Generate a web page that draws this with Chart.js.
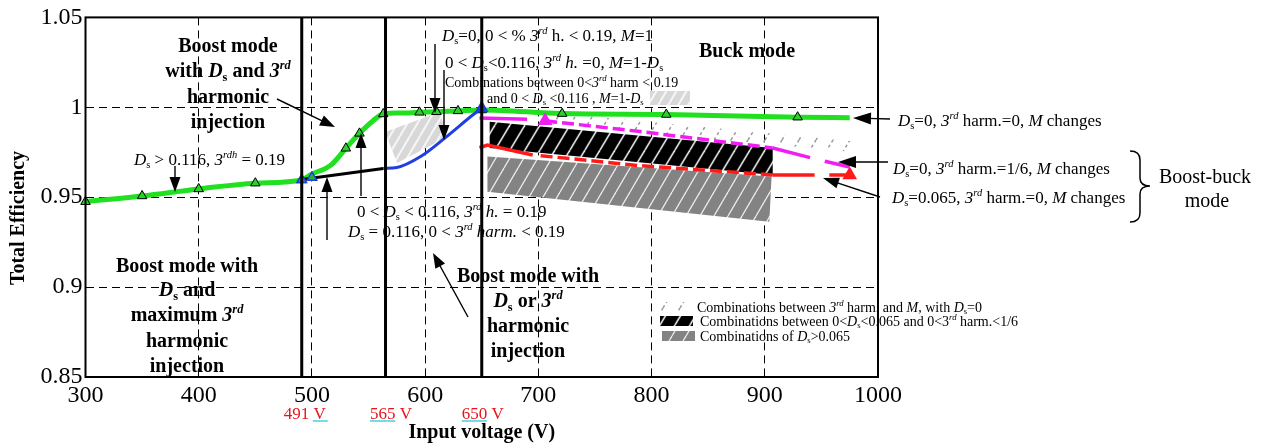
<!DOCTYPE html>
<html lang="en">
<head>
<meta charset="UTF-8" />
<title>Total efficiency vs input voltage</title>
<script src="https://cdn.jsdelivr.net/npm/chart.js"></script>
<style>
  body { margin: 0; background: #fff; }
  #chart { display: block; }
</style>
</head>
<body>
<canvas id="chart" width="1272" height="443"></canvas>
<script>
  // ---- axis ticks ----
  const xTicks = [300, 400, 500, 600, 700, 800, 900, 1000];
  const xTickLabels = ['300', '400', '500', '600', '700', '800', '900', '1000'];
  const yTicks = [0.85, 0.9, 0.95, 1, 1.05];
  const yTickLabels = ['0.85', '0.9', '0.95', '1', '1.05'];

  // mode boundaries (V)
  const modeBounds = [491, 565, 650];

  // green: boost curve + Ds=0, 3rd harm.=0, M changes
  const greenV   = [300, 350, 400, 450, 491, 498, 517, 530, 542, 553, 563, 578, 595, 610, 629, 650, 721, 813, 929, 975];
  const greenEff = [0.9475, 0.9507, 0.9546, 0.9578, 0.9596, 0.9623, 0.968, 0.9772, 0.9855, 0.992, 0.9963, 0.9968, 0.9972, 0.9975, 0.998, 0.9985, 0.9965, 0.996, 0.9945, 0.9942];
  const greenMark = [1, 1, 1, 1, 1, 0, 0, 1, 1, 0, 1, 0, 1, 1, 1, 1, 1, 1, 1, 0];

  // black: Ds = 0.116, 0 < 3rd harm. < 0.19
  const blackV   = [491, 563];
  const blackEff = [0.9598, 0.966];
  const blueMarkV   = [491, 500];
  const blueMarkEff = [0.9597, 0.961];

  // blue: 0 < Ds < 0.116, 3rd h. = 0, M = 1-Ds
  const blueV   = [563, 575, 596, 619, 642, 650];
  const blueEff = [0.966, 0.9665, 0.9726, 0.9837, 0.9957, 0.9995];

  // magenta: Ds=0, 3rd harm.=1/6, M changes
  const magV   = [648, 690, 706, 790, 907, 940, 953, 975];
  const magEff = [0.994, 0.9933, 0.9925, 0.9865, 0.9774, 0.972, 0.970, 0.9668];
  const magSeg = ['solid', 'gap', 'dash', 'dash', 'solid', 'gap', 'solid'];

  // red: Ds=0.065, 3rd harm.=0, M changes
  const redV   = [648, 655, 695, 702, 790, 907, 944, 957, 975];
  const redEff = [0.9775, 0.979, 0.9735, 0.9731, 0.9675, 0.9624, 0.9624, 0.9624, 0.9624];
  const redSeg = ['solid', 'solid', 'gap', 'dash', 'dash', 'solid', 'gap', 'solid'];

  // hatched regions (corner points)
  const lightBoxV   = [564.6, 613, 619.3, 575.2];
  const lightBoxEff = [0.9863, 0.9974, 0.9835, 0.969];
  const ds0V   = [705, 980, 980, 705];
  const ds0Eff = [0.9975, 0.981, 0.975, 0.991];
  const blackRegV   = [657, 907, 907, 657];
  const blackRegEff = [0.992, 0.9774, 0.9624, 0.9774];
  const grayRegV   = [655, 906, 904, 655];
  const grayRegEff = [0.9726, 0.9615, 0.9364, 0.953];

  const SERIF = '"Liberation Serif", "Times New Roman", serif';

  function stripes(bg, fg, w, h, lw, halo, dash) {
    const c = document.createElement('canvas');
    c.width = w; c.height = h;
    const g = c.getContext('2d');
    if (bg) { g.fillStyle = bg; g.fillRect(0, 0, w, h); }
    const draw = (col, width) => {
      g.strokeStyle = col; g.lineWidth = width;
      if (dash) g.setLineDash(dash);
      for (const o of [-w, 0, w]) {
        g.beginPath(); g.moveTo(o, h); g.lineTo(o + w, 0); g.stroke();
      }
    };
    if (halo) draw(halo, lw * 2);
    draw(fg, lw);
    return g.createPattern(c, 'repeat');
  }

  const patBlack = stripes('#000', '#e8e8e8', 15, 25, 1.3, '#3a3a3a');
  const patGray  = stripes('#838383', '#ececec', 14, 24, 1.3);
  const patLight = stripes('#d8d8d8', '#f6f6f6', 10, 17, 2);
  const patDs0   = stripes(null, '#9a9a9a', 17, 28, 1.5, null, [3, 3]);

  const pts = (xs, ys) => xs.map((x, i) => ({ x, y: ys[i] }));

  function region(xs, ys, pattern) {
    return {
      data: pts(xs, ys), fill: 'shape', backgroundColor: pattern,
      borderWidth: 0, borderColor: 'transparent', pointRadius: 0, order: 10
    };
  }

  function segStyle(kinds, dash) {
    return {
      borderDash: ctx => kinds[ctx.p0DataIndex] === 'dash' ? dash : [],
      borderColor: ctx => kinds[ctx.p0DataIndex] === 'gap' ? 'transparent' : undefined
    };
  }

  // rich text: *italic*, ^superscript^, ~subscript~
  function rich(ctx, str, x, yMid, size, opt = {}) {
    const weight = opt.bold ? 'bold ' : '';
    const segs = [];
    for (const p of str.split(/(\*[^*]+\*|\^[^^]+\^|~[^~]+~)/)) {
      if (!p) continue;
      let t = p, it = '', s = size, dy = 0;
      if (p[0] === '*') { t = p.slice(1, -1); it = 'italic '; }
      else if (p[0] === '^') { t = p.slice(1, -1); it = 'italic '; s = size * 0.62; dy = -size * 0.4; }
      else if (p[0] === '~') { t = p.slice(1, -1); s = size * 0.62; dy = size * 0.2; }
      const font = it + weight + s.toFixed(1) + 'px ' + SERIF;
      ctx.font = font;
      segs.push({ t, font, dy, w: ctx.measureText(t).width });
    }
    const total = segs.reduce((a, s) => a + s.w, 0);
    let cx = opt.align === 'center' ? x - total / 2 : x;
    const base = yMid + size * 0.33;
    ctx.fillStyle = opt.color || '#000';
    ctx.textAlign = 'left';
    ctx.textBaseline = 'alphabetic';
    for (const s of segs) { ctx.font = s.font; ctx.fillText(s.t, cx, base + s.dy); cx += s.w; }
    return total;
  }

  function arrow(ctx, x1, y1, x2, y2, head = 15, hw = 5.5) {
    const a = Math.atan2(y2 - y1, x2 - x1);
    const c = Math.cos(a), s = Math.sin(a);
    ctx.strokeStyle = '#000'; ctx.fillStyle = '#000'; ctx.lineWidth = 1.4;
    ctx.beginPath(); ctx.moveTo(x1, y1); ctx.lineTo(x2 - head * 0.8 * c, y2 - head * 0.8 * s); ctx.stroke();
    ctx.beginPath(); ctx.moveTo(x2, y2);
    ctx.lineTo(x2 - head * c + hw * s, y2 - head * s - hw * c);
    ctx.lineTo(x2 - head * c - hw * s, y2 - head * s + hw * c);
    ctx.closePath(); ctx.fill();
  }

  const annotations = {
    id: 'annotations',
    afterDraw(chart) {
      const ctx = chart.ctx;
      const a = chart.chartArea;
      const x = chart.scales.x;
      ctx.save();

      // frame
      ctx.strokeStyle = '#000'; ctx.lineWidth = 2;
      ctx.strokeRect(a.left, a.top, a.right - a.left, a.bottom - a.top);

      // y axis title
      ctx.save();
      ctx.translate(19, 218); ctx.rotate(-Math.PI / 2);
      ctx.font = 'bold 20px ' + SERIF; ctx.fillStyle = '#000';
      ctx.textAlign = 'center'; ctx.textBaseline = 'middle';
      ctx.fillText('Total Efficiency', 0, 0);
      ctx.restore();

      // boundary voltage labels
      const offs = [-18, -15.5, -20];
      modeBounds.forEach((v, i) => {
        const lx = x.getPixelForValue(v) + offs[i];
        const w = rich(ctx, v + ' V', lx, 413, 17, { color: '#e8141c' });
        ctx.strokeStyle = '#16c6d8'; ctx.lineWidth = 1.2;
        ctx.beginPath();
        if (i === 0) { ctx.moveTo(lx + w - 13, 421); ctx.lineTo(lx + w + 2, 421); }
        else { ctx.moveTo(lx, 421); ctx.lineTo(lx + w * 0.6, 421); }
        ctx.stroke();
      });

      // mode labels (bold)
      const block = (lines, cx, ys) => lines.forEach((l, i) => rich(ctx, l, cx, ys[i], 20, { bold: true, align: 'center' }));
      block(['Boost mode', 'with *D*~s~ and *3*^rd^', 'harmonic', 'injection'], 228, [45, 70, 96, 121]);
      block(['Boost mode with', '*D*~s~ and', 'maximum *3*^rd^', 'harmonic', 'injection'], 187, [265, 289, 314, 340, 365]);
      block(['Boost mode with', '*D*~s~ or *3*^rd^', 'harmonic', 'injection'], 528, [275, 300, 325, 350]);
      block(['Buck mode'], 747, [50]);
      rich(ctx, 'Boost-buck', 1205, 176, 20, { align: 'center' });
      rich(ctx, 'mode', 1207, 200, 20, { align: 'center' });

      // condition labels
      rich(ctx, '*D*~s~=0, 0 < % *3*^rd^ h. < 0.19, *M*=1', 442, 35, 17);
      rich(ctx, '0 < *D*~s~<0.116, *3*^rd^ *h.* =0, *M*=1-*D*~s~', 445, 62, 17);
      rich(ctx, 'Combinations between 0<*3*^rd^ harm < 0.19', 445, 82, 14);
      rich(ctx, 'and 0 < *D*~s~ <0.116 , *M*=1-*D*~s~', 487, 98, 14);
      ctx.fillStyle = patLight; ctx.fillRect(650, 91, 40, 14);

      rich(ctx, '*D*~s~ > 0.116, *3*^rdh^ = 0.19', 134, 159, 17);
      rich(ctx, '0 < *D*~s~ < 0.116, *3*^rd^ *h.* = 0.19', 357, 211, 17);
      rich(ctx, '*D*~s~ = 0.116, 0 < *3*^rd^ *harm.* < 0.19', 348, 231, 17);

      rich(ctx, '*D*~s~=0, *3*^rd^ harm.=0, *M* changes', 898, 120, 17);
      rich(ctx, '*D*~s~=0, *3*^rd^ harm.=1/6, *M* changes', 893, 168, 17);
      rich(ctx, '*D*~s~=0.065, *3*^rd^ harm.=0, *M* changes', 892, 197, 17);

      // brace
      ctx.strokeStyle = '#000'; ctx.lineWidth = 1.5;
      ctx.beginPath();
      ctx.moveTo(1130, 151); ctx.quadraticCurveTo(1140, 151, 1140, 160);
      ctx.lineTo(1140, 178); ctx.quadraticCurveTo(1140, 186, 1150, 186);
      ctx.quadraticCurveTo(1140, 186, 1140, 194);
      ctx.lineTo(1140, 213); ctx.quadraticCurveTo(1140, 222, 1130, 222);
      ctx.stroke();

      // arrows
      arrow(ctx, 277, 99, 335, 127);
      arrow(ctx, 175, 166, 175, 192);
      arrow(ctx, 327, 240, 327, 177);
      arrow(ctx, 361, 196, 361, 133);
      arrow(ctx, 435, 44, 435, 113);
      arrow(ctx, 444, 70, 444, 140);
      arrow(ctx, 468, 317, 433, 253);
      arrow(ctx, 890, 119, 853, 118, 18, 6);
      arrow(ctx, 888, 162, 838, 162, 18, 6);
      arrow(ctx, 880, 197, 823, 178, 16, 5.5);

      // legend
      const leg = [
        [patDs0, 'Combinations between *3*^rd^ harm. and *M*, with *D*~s~=0', 658, 302, 697, 307],
        [patBlack, 'Combinations between 0<*D*~s~<0.065 and 0<3^rd^ harm.<1/6', 660, 316, 700, 321],
        [patGray, 'Combinations of *D*~s~>0.065', 662, 331, 700, 336]
      ];
      leg.forEach(([p, t, sx, sy, tx, ty]) => {
        ctx.fillStyle = p; ctx.fillRect(sx, sy, 33, 10);
        rich(ctx, t, tx, ty, 14);
      });

      ctx.restore();
    }
  };

  new Chart(document.getElementById('chart'), {
    type: 'line',
    data: {
      datasets: [
        region(lightBoxV, lightBoxEff, patLight),
        region(ds0V, ds0Eff, patDs0),
        region(blackRegV, blackRegEff, patBlack),
        region(grayRegV, grayRegEff, patGray),
        {
          data: pts(greenV, greenEff), borderColor: '#20e020', borderWidth: 5,
          cubicInterpolationMode: 'monotone', pointStyle: 'triangle',
          pointRadius: greenMark.map(m => m ? 5.5 : 0),
          pointBackgroundColor: '#2bd02b', pointBorderColor: '#000', pointBorderWidth: 1,
          clip: false, order: 3
        },
        {
          data: pts(blackV, blackEff), borderColor: '#000', borderWidth: 3,
          pointRadius: 0, order: 2
        },
        {
          data: pts(blueV, blueEff), borderColor: '#1f3fe0', borderWidth: 3,
          cubicInterpolationMode: 'monotone', pointStyle: 'triangle',
          pointRadius: blueV.map((v, i) => i === blueV.length - 1 ? 5 : 0),
          pointBackgroundColor: '#1f3fe0', pointBorderColor: '#1f3fe0', order: 2
        },
        {
          data: pts(blueMarkV, blueMarkEff), showLine: false, pointStyle: 'triangle',
          pointRadius: 5.5, pointBackgroundColor: '#2bb02b', pointBorderColor: '#1f3fe0',
          pointBorderWidth: 1.5, order: 1
        },
        {
          data: pts(magV, magEff), borderColor: '#f01ef0', borderWidth: 3.5,
          segment: segStyle(magSeg, [12, 5]), pointStyle: 'triangle',
          pointRadius: magV.map((v, i) => i === 2 ? 5 : 0),
          pointBackgroundColor: '#f01ef0', pointBorderColor: '#f01ef0', order: 2
        },
        {
          data: pts(redV, redEff), borderColor: '#ff1a1a', borderWidth: 3.5,
          segment: segStyle(redSeg, [12, 5]), pointStyle: 'triangle',
          pointRadius: redV.map((v, i) => i === redV.length - 1 ? 5 : 0),
          pointBackgroundColor: '#ff1a1a', pointBorderColor: '#ff1a1a', order: 2
        },
        ...modeBounds.map(v => ({
          data: [{ x: v, y: yTicks[0] }, { x: v, y: yTicks[yTicks.length - 1] }],
          borderColor: '#000', borderWidth: 3, pointRadius: 0, order: 0
        }))
      ]
    },
    options: {
      responsive: false,
      animation: false,
      devicePixelRatio: 1,
      font: { family: SERIF },
      layout: { padding: { left: 0, top: 17, right: 394, bottom: 0 } },
      plugins: { legend: { display: false }, tooltip: { enabled: false } },
      scales: {
        x: {
          type: 'linear', min: 300, max: 1000,
          afterFit: s => { s.height = 66; },
          afterBuildTicks: s => { s.ticks = xTicks.map(v => ({ value: v })); },
          ticks: {
            color: '#000', padding: 4, maxRotation: 0, autoSkip: false, font: { family: SERIF, size: 24 },
            callback: (v, i) => xTickLabels[i]
          },
          grid: {
            drawTicks: false, lineWidth: 1,
            color: c => (c.tick && c.tick.value > 300 && c.tick.value < 1000) ? '#000' : 'transparent'
          },
          border: { display: false, dash: [8, 5] },
          title: {
            display: true, text: 'Input voltage (V)', color: '#000',
            font: { family: SERIF, size: 20, weight: 'bold' }, padding: { top: 0, bottom: -2 }
          }
        },
        y: {
          min: 0.85, max: 1.05,
          afterFit: s => { s.width = 85.5; },
          afterBuildTicks: s => { s.ticks = yTicks.map(v => ({ value: v })); },
          ticks: {
            color: '#000', padding: 3, autoSkip: false, font: { family: SERIF, size: 24 },
            callback: (v, i) => yTickLabels[i]
          },
          grid: {
            drawTicks: false, lineWidth: 1,
            color: c => (c.tick && c.tick.value > 0.86 && c.tick.value < 1.04) ? '#000' : 'transparent'
          },
          border: { display: false, dash: [8, 5] }
        }
      }
    },
    plugins: [annotations]
  });
</script>
</body>
</html>
